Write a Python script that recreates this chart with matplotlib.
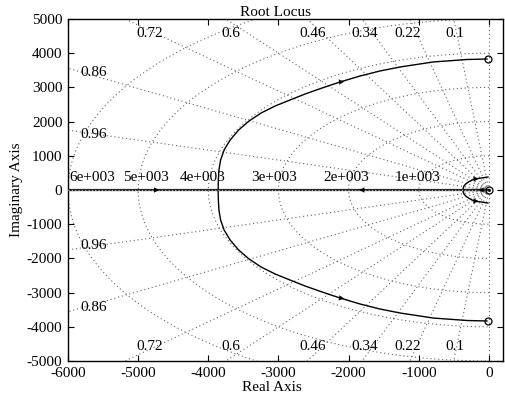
import numpy as np
import matplotlib
matplotlib.use("Agg")
import matplotlib.pyplot as plt

plt.rcParams['font.family'] = ['Liberation Serif', 'DejaVu Serif']

# ---- data ----
upper_re = [-3860, -3857, -3849, -3825, -3775, -3689, -3568, -3419, -3248, -3048,
            -2835, -2621, -2379, -2123, -1838, -1553, -1268, -798, -313, -28]
upper_im = [0, 292, 585, 877, 1170, 1462, 1754, 2018, 2251, 2456,
            2632, 2807, 2982, 3158, 3333, 3480, 3596, 3743, 3816, 3830]
small_re = [-370, -366, -356, -336, -313, -280, -242, -200, -157, -90, -14]
small_im = [0, 60, 117, 165, 205, 250, 292, 316, 336, 358, 380]
real_left = [-6000, -3860]
real_right = [0, -3860]
real_small = [0, -370]
zeros_re = [-20, -20, 0]
zeros_im = [3830, -3830, 0]
zetas = [0.1, 0.22, 0.34, 0.46, 0.6, 0.72, 0.86, 0.96]
wns = [1000, 2000, 3000, 4000, 5000, 6000]
wn_labels = ['1e+003', '2e+003', '3e+003', '4e+003', '5e+003', '6e+003']
wn_label_re = [-1011, -2037, -3063, -4088, -4886, -5655]
top_zeta = ['0.72', '0.6', '0.46', '0.34', '0.22', '0.1']
top_zeta_re = [-4829, -3675, -2507, -1766, -1154, -484]
left_zeta = ['0.86', '0.96']
xticks = [-6000, -5000, -4000, -3000, -2000, -1000, 0]
yticks = [-5000, -4000, -3000, -2000, -1000, 0, 1000, 2000, 3000, 4000, 5000]

fig = plt.figure(figsize=(5.05, 3.98), dpi=100)
ax = fig.add_axes([68/505, 1-361/398, (503-68)/505, (361-19)/398])
ax.set_xlim(-6000, 200)
ax.set_ylim(-5000, 5000)

gc = '0.4'
gkw = dict(color=gc, linestyle=(0, (1, 2.5)), linewidth=0.8, zorder=1)
R = 9000
for z in zetas + [0.0]:
    th = np.arccos(z)
    ax.plot([0, -R*np.cos(th)], [0, R*np.sin(th)], **gkw)
    ax.plot([0, -R*np.cos(th)], [0, -R*np.sin(th)], **gkw)
t = np.linspace(np.pi/2, 3*np.pi/2, 300)
for w in wns:
    ax.plot(w*np.cos(t), w*np.sin(t), **gkw)

fs = 11
for xr, lab in zip(wn_label_re, wn_labels):
    ax.text(xr, 170, lab, ha='center', va='bottom', fontsize=fs, zorder=3)
for lab, xr in zip(top_zeta, top_zeta_re):
    ax.text(xr, 4590, lab, ha='center', va='center', fontsize=fs, zorder=3)
    ax.text(xr, -4590, lab, ha='center', va='center', fontsize=fs, zorder=3)
for lab in left_zeta:
    z = float(lab)
    yy = 6000*np.sqrt(1-z*z)/z - 120
    ax.text(-5630, yy, lab, ha='center', va='center', fontsize=fs, zorder=3)
    ax.text(-5630, -yy, lab, ha='center', va='center', fontsize=fs, zorder=3)

lk = dict(color='k', linewidth=1.0, zorder=4)
ax.plot(upper_re, upper_im, **lk)
ax.plot(upper_re, [-v for v in upper_im], **lk)
ax.plot(small_re, small_im, **lk)
ax.plot(small_re, [-v for v in small_im], **lk)
rk = dict(color='0.15', linewidth=1.6, zorder=4)
ax.plot(real_left, [0, 0], **rk)
ax.plot(real_right, [0, 0], **rk)
ax.plot(real_small, [0, 0], **rk)
ax.plot([-6000, 0], [0, 0], color='0.7', linestyle=(0, (1, 2)), linewidth=0.8, zorder=4.5)
ax.plot(zeros_re, zeros_im, 'o', mfc='none', mec='k', ms=5, mew=0.9, zorder=5)
ax.plot([0], [0], '.', color='k', ms=2, zorder=5)

def arrow(x0, y0, x1, y1):
    ax.annotate('', xy=(x1, y1), xytext=(x0, y0),
                arrowprops=dict(arrowstyle='-|>', color='k', lw=0.1,
                                mutation_scale=9, shrinkA=0, shrinkB=0), zorder=6)

k = 13
arrow(upper_re[k], upper_im[k], upper_re[k]+60, upper_im[k]+14)
arrow(upper_re[k], -upper_im[k], upper_re[k]+60, -upper_im[k]-14)
arrow(-4800, 0, -4700, 0)
arrow(-1750, 0, -1850, 0)
arrow(small_re[8]-30, small_im[8]-8, small_re[8]+10, small_im[8]+2)
arrow(small_re[8]-30, -small_im[8]+8, small_re[8]+10, -small_im[8]-2)
arrow(-110, 0, -150, 0)

ax.set_xticks(xticks)
ax.set_yticks(yticks)
ax.set_xticklabels([str(v) for v in xticks], fontsize=fs)
ax.set_yticklabels([str(v) for v in yticks], fontsize=fs)
ax.tick_params(direction='in', top=True, right=True, length=4, width=0.8)
ax.tick_params(axis='x', pad=4)
ax.tick_params(axis='y', pad=4)
for s in ax.spines.values():
    s.set_linewidth(1.0)
ax.set_title('Root Locus', fontsize=fs, pad=2, x=0.478)
ax.set_xlabel('Real Axis', fontsize=fs, labelpad=1, x=0.469)
ax.set_ylabel('Imaginary Axis', fontsize=fs, labelpad=3)

fig.savefig('out.png', dpi=100)
